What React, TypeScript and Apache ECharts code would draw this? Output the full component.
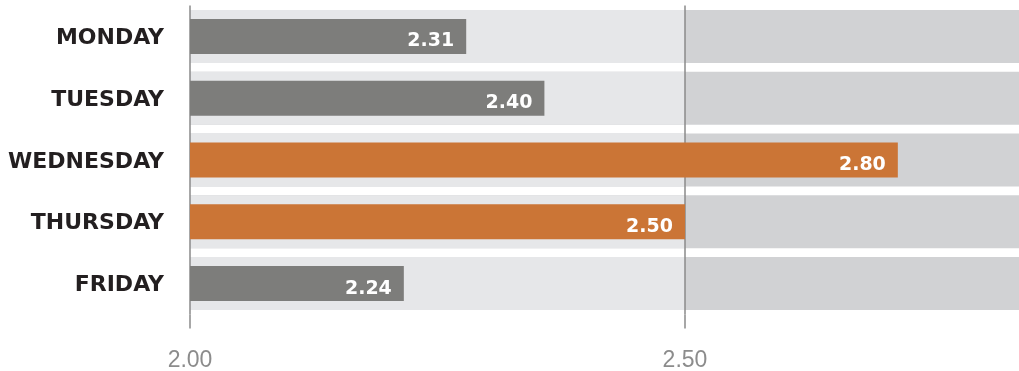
import React, { useEffect, useRef } from "react";
import * as echarts from "echarts";

const categories = ["MONDAY", "TUESDAY", "WEDNESDAY", "THURSDAY", "FRIDAY"];
const barValues = [2.279, 2.358, 2.715, 2.5, 2.216];
// value labels printed on the bars
const valueLabels = ["2.31", "2.40", "2.80", "2.50", "2.24"];
const highlighted = [false, false, true, true, false];
const axisMin = 2.0;
const axisMax = 2.8374;
const tickValues = [2.0, 2.5];
const bandSplit = 2.5;

const GRAY = "#7d7d7b";
const ORANGE = "#cb7536";

export default function App() {
  const ref = useRef<HTMLDivElement>(null);
  useEffect(() => {
    if (!ref.current) return;
    const chart = echarts.init(ref.current, null, { renderer: "svg" });
    chart.setOption({
      animation: false,
      grid: { left: 190, right: 0, top: 5.6, bottom: 56.6, containLabel: false },
      xAxis: {
        type: "value",
        min: axisMin,
        max: axisMax,
        z: 2,
        axisLine: { show: false },
        axisTick: {
          show: true,
          customValues: tickValues,
          length: 14,
          lineStyle: { color: "#8a8a8a", width: 1.5 },
        },
        splitLine: { show: true, lineStyle: { color: "#8a8a8a", width: 1.5 } },
        axisLabel: {
          customValues: tickValues,
          margin: 33,
          color: "#8c8c8c",
          fontFamily: "Liberation Sans",
          fontSize: 23,
          formatter: (v: number) => v.toFixed(2),
        },
      },
      yAxis: [
        {
          type: "category",
          data: categories,
          inverse: true,
          axisLine: { show: false },
          axisTick: { show: false },
          axisLabel: {
            margin: 26,
            color: "#231f20",
            fontFamily: "DejaVu Sans",
            fontWeight: "bold",
            fontSize: 22,
          },
        },
        {
          type: "category",
          data: categories,
          inverse: true,
          show: false,
        },
      ],
      series: [
        {
          type: "bar",
          yAxisIndex: 1,
          data: categories.map(() => axisMax),
          barWidth: 53,
          barGap: "-100%",
          itemStyle: { color: "#d1d2d4" },
          silent: true,
          z: 0,
        },
        {
          type: "bar",
          yAxisIndex: 1,
          data: categories.map(() => bandSplit),
          barWidth: 53,
          barGap: "-100%",
          itemStyle: { color: "#e6e7e9" },
          silent: true,
          z: 1,
        },
        {
          type: "bar",
          yAxisIndex: 0,
          data: barValues.map((v, i) => ({
            value: v,
            itemStyle: { color: highlighted[i] ? ORANGE : GRAY },
          })),
          barWidth: 35,
          z: 3,
          label: {
            show: true,
            position: "insideRight",
            distance: 12,
            offset: [0, 3],
            color: "#ffffff",
            fontFamily: "DejaVu Sans",
            fontWeight: "bold",
            fontSize: 19,
            formatter: (p: any) => valueLabels[p.dataIndex],
          },
        },
      ],
    });
    return () => chart.dispose();
  }, []);
  return (
    <div
      ref={ref}
      style={{ position: "fixed", left: 0, top: 0, width: 1019, height: 371 }}
    />
  );
}
